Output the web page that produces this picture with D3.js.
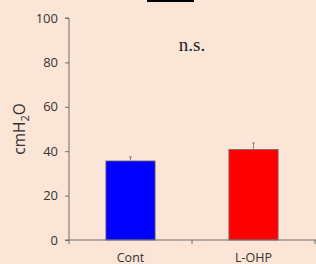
<!DOCTYPE html>
<html>
<head>
<meta charset="utf-8">
<script src="https://cdn.jsdelivr.net/npm/d3@7"></script>
<style>
  html, body { margin: 0; padding: 0; background: #fbe5d6; }
  svg { display: block; }
</style>
</head>
<body>
<svg id="chart" width="316" height="264"></svg>
<script>
'use strict';

var categories = ['Cont', 'L-OHP'];
var means = [35.6, 40.8];
var errors = [1.8, 2.9];
var barColors = ['#0000ff', '#ff0000'];
var yTicks = [0, 20, 40, 60, 80, 100];

var svg = d3.select('#chart');
var margin = { top: 18, right: 0, bottom: 24, left: 69 };
var height = 264 - margin.top - margin.bottom;

// little black bar cut off at the top of the picture
svg.append('rect')
  .attr('x', 147).attr('y', 0)
  .attr('width', 47).attr('height', 2)
  .attr('fill', '#000');

var g = svg.append('g').attr('transform', 'translate(' + margin.left + ',' + margin.top + ')');

var x = d3.scaleBand().domain(categories).range([0, 246]).paddingInner(0.6).paddingOuter(0.3);
var y = d3.scaleLinear().domain([0, 100]).range([height, 0]);

// bars
g.selectAll('rect.bar')
  .data(categories)
  .enter().append('rect')
  .attr('class', 'bar')
  .attr('x', function(d) { return x(d); })
  .attr('y', function(d, i) { return y(means[i]); })
  .attr('width', x.bandwidth())
  .attr('height', function(d, i) { return y(0) - y(means[i]); })
  .attr('fill', function(d, i) { return barColors[i]; })
  .attr('stroke', '#7a6a66')
  .attr('stroke-width', 0.8);

// error bars (upper only)
var err = g.selectAll('g.err').data(categories).enter().append('g').attr('class', 'err');
err.append('line')
  .attr('x1', function(d) { return x(d) + x.bandwidth() / 2; })
  .attr('x2', function(d) { return x(d) + x.bandwidth() / 2; })
  .attr('y1', function(d, i) { return y(means[i]); })
  .attr('y2', function(d, i) { return y(means[i] + errors[i]); })
  .attr('stroke', '#8a8a8a').attr('stroke-width', 1);
err.append('line')
  .attr('x1', function(d) { return x(d) + x.bandwidth() / 2 - 1.5; })
  .attr('x2', function(d) { return x(d) + x.bandwidth() / 2 + 1.5; })
  .attr('y1', function(d, i) { return y(means[i] + errors[i]); })
  .attr('y2', function(d, i) { return y(means[i] + errors[i]); })
  .attr('stroke', '#8a8a8a').attr('stroke-width', 1);

// y axis
var yAxis = g.append('g')
  .call(d3.axisLeft(y).tickValues(yTicks).tickSize(4).tickPadding(7));
yAxis.select('.domain').attr('stroke', '#6f6f6f').attr('d', 'M0,' + y(0) + 'V' + y(100) + 'H-4');
yAxis.selectAll('.tick line').attr('stroke', '#6f6f6f');
yAxis.selectAll('.tick text')
  .attr('fill', '#333')
  .style('font-family', 'Open Sans, sans-serif')
  .style('font-size', '13px');

// x axis with ticks on category boundaries
var xAxisG = g.append('g').attr('transform', 'translate(0,' + y(0) + ')');
xAxisG.append('line')
  .attr('x1', -4).attr('x2', 248)
  .attr('stroke', '#6f6f6f').attr('stroke-width', 1);
var boundaries = [0, 123, 246];
xAxisG.selectAll('line.tk').data(boundaries).enter().append('line')
  .attr('class', 'tk')
  .attr('x1', function(d) { return d; }).attr('x2', function(d) { return d; })
  .attr('y1', 0).attr('y2', 4)
  .attr('stroke', '#6f6f6f');
xAxisG.selectAll('text.cat').data(categories).enter().append('text')
  .attr('class', 'cat')
  .attr('x', function(d) { return x(d) + x.bandwidth() / 2; })
  .attr('y', 22)
  .attr('text-anchor', 'middle')
  .attr('fill', '#333')
  .style('font-family', 'Open Sans, sans-serif')
  .style('font-size', '12.5px')
  .text(function(d) { return d; });

// y label
var yl = svg.append('text')
  .attr('transform', 'translate(25,' + (margin.top + y(50)) + ') rotate(-90)')
  .attr('text-anchor', 'middle')
  .attr('fill', '#333')
  .style('font-family', 'Open Sans, sans-serif')
  .style('font-size', '15.5px');
yl.append('tspan').text('cmH');
yl.append('tspan').attr('dy', 4).style('font-size', '11px').text('2');
yl.append('tspan').attr('dy', -4).text('O');

// significance
svg.append('text')
  .attr('x', 192).attr('y', 51)
  .attr('text-anchor', 'middle')
  .attr('fill', '#222')
  .style('font-family', 'Liberation Serif, DejaVu Serif, serif')
  .style('font-size', '19px')
  .text('n.s.');
</script>
</body>
</html>
